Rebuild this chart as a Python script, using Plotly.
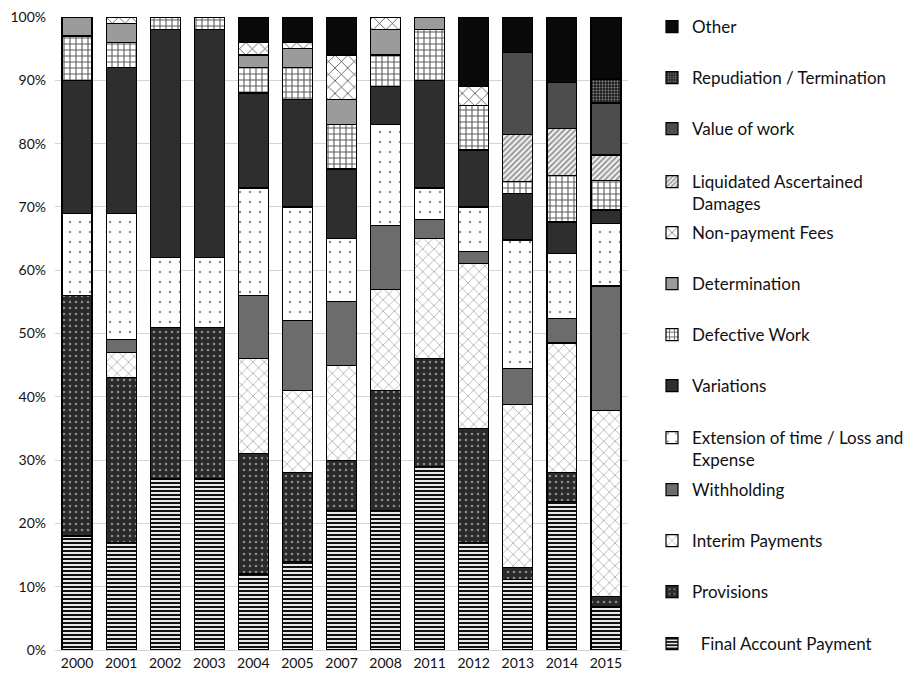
import plotly.graph_objects as go

# Dispute categories per year, share of cases (%)
years = ["2000", "2001", "2002", "2003", "2004", "2005", "2007",
         "2008", "2011", "2012", "2013", "2014", "2015"]

final_account = [18, 17, 27, 27, 12, 14, 22, 22, 29, 17, 11.1, 23.5, 6.8]
provisions = [38, 26, 24, 24, 19, 14, 8, 19, 17, 18, 1.9, 4.6, 1.7]
interim_payments = [0, 4, 0, 0, 15, 13, 15, 16, 19, 26, 25.9, 20.4, 29.3]
withholding = [0, 2, 0, 0, 10, 11, 10, 10, 3, 2, 5.6, 3.9, 19.7]
extension_of_time = [13, 20, 11, 11, 17, 18, 10, 16, 5, 7, 20.4, 10.3, 9.9]
variations = [21, 23, 36, 36, 15, 17, 11, 6, 17, 9, 7.4, 4.9, 2.1]
defective_work = [7, 4, 2, 2, 4, 5, 7, 5, 8, 7, 1.9, 7.4, 4.7]
determination = [3, 3, 0, 0, 2, 3, 4, 4, 2, 0, 0, 0, 0]
non_payment_fees = [0, 1, 0, 0, 2, 1, 7, 2, 0, 3, 0, 0, 0]
lad = [0, 0, 0, 0, 0, 0, 0, 0, 0, 0, 7.4, 7.4, 4.0]
value_of_work = [0, 0, 0, 0, 0, 0, 0, 0, 0, 0, 13.0, 7.3, 8.2]
repudiation = [0, 0, 0, 0, 0, 0, 0, 0, 0, 0, 0, 0, 3.8]
other = [0, 0, 0, 0, 4, 4, 6, 0, 0, 11, 5.6, 10.3, 9.8]

y_ticks = [0, 10, 20, 30, 40, 50, 60, 70, 80, 90, 100]
y_tick_text = [f"{v}%" for v in y_ticks]

# (name, values, pattern shape, fg colour, bg colour, pattern size, solidity)
series = [
    ("\u00a0\u00a0Final Account Payment", final_account, "-", "#111111", "#ffffff", 4, 0.55),
    ("Provisions", provisions, ".", "#8a8a8a", "#2a2a2a", 6, 0.15),
    ("Interim Payments", interim_payments, "x", "#8c8c8c", "#ffffff", 8, 0.14),
    ("Withholding", withholding, "", None, "#6c6c6c", None, None),
    ("Extension of time / Loss and<br>Expense", extension_of_time, ".", "#8c8c8c", "#ffffff", 10, 0.05),
    ("Variations", variations, "", None, "#2e2e2e", None, None),
    ("Defective Work", defective_work, "+", "#5c5c5c", "#ffffff", 6, 0.33),
    ("Determination", determination, "", None, "#9b9b9b", None, None),
    ("Non-payment Fees", non_payment_fees, "x", "#333333", "#ffffff", 9, 0.15),
    ("Liquidated Ascertained<br>Damages", lad, "/", "#8c8c8c", "#f0f0f0", 4, 0.4),
    ("Value of work", value_of_work, "", None, "#4d4d4d", None, None),
    ("Repudiation / Termination", repudiation, ".", "#8a8a8a", "#1e1e1e", 3, 0.3),
    ("Other", other, "", None, "#0a0a0a", None, None),
]

# legend entry centres (pixels from top), bottom series last
legend_rows = [644, 592, 541, 490, 438, 386, 335, 284, 233, 182, 129, 78, 27]

W, H = 912, 675
ML, MR, MT, MB = 55, 284, 17, 25
plot_h = H - MT - MB
plot_w = W - ML - MR

fig = go.Figure()
layout_legends = {}
for i, (name, vals, shape, fg, bg, size, sol) in enumerate(series):
    key = "legend" if i == 0 else f"legend{i + 1}"
    if shape:
        pattern = dict(shape=shape, fgcolor=fg, bgcolor=bg, size=size,
                       solidity=sol, fillmode="replace")
    else:
        pattern = dict(shape="")
    fig.add_trace(go.Bar(
        x=years, y=vals, name=name, legend=key,
        marker=dict(color=bg, pattern=pattern,
                    line=dict(color="#000000", width=1.2)),
    ))
    top_px = legend_rows[i] - 18
    layout_legends[key] = dict(
        x=(652 - ML) / plot_w, xanchor="left",
        y=(H - MB - top_px) / plot_h, yanchor="top",
        valign="top", bgcolor="rgba(0,0,0,0)", borderwidth=0,
        font=dict(family="Lato, Calibri, sans-serif", size=17, color="#111111"),
    )

fig.update_layout(
    barmode="stack", barnorm="percent", bargap=0.32,
    width=W, height=H,
    margin=dict(l=ML, r=MR, t=MT, b=MB, pad=0, autoexpand=False),
    paper_bgcolor="#ffffff", plot_bgcolor="#ffffff",
    showlegend=True,
    font=dict(family="Lato, Calibri, sans-serif", size=14, color="#111111"),
    **layout_legends,
)
fig.update_yaxes(
    range=[0, 100], tickmode="array", tickvals=y_ticks, ticktext=y_tick_text,
    showgrid=True, gridcolor="#d4d4d4", gridwidth=1,
    zeroline=False, showline=False, ticks="", ticklabelstandoff=8,
    tickfont=dict(size=14),
)
fig.update_xaxes(
    showgrid=False, showline=True, linecolor="#d4d4d4", linewidth=1,
    ticks="", tickfont=dict(size=14),
)

fig.write_html("out.html")
